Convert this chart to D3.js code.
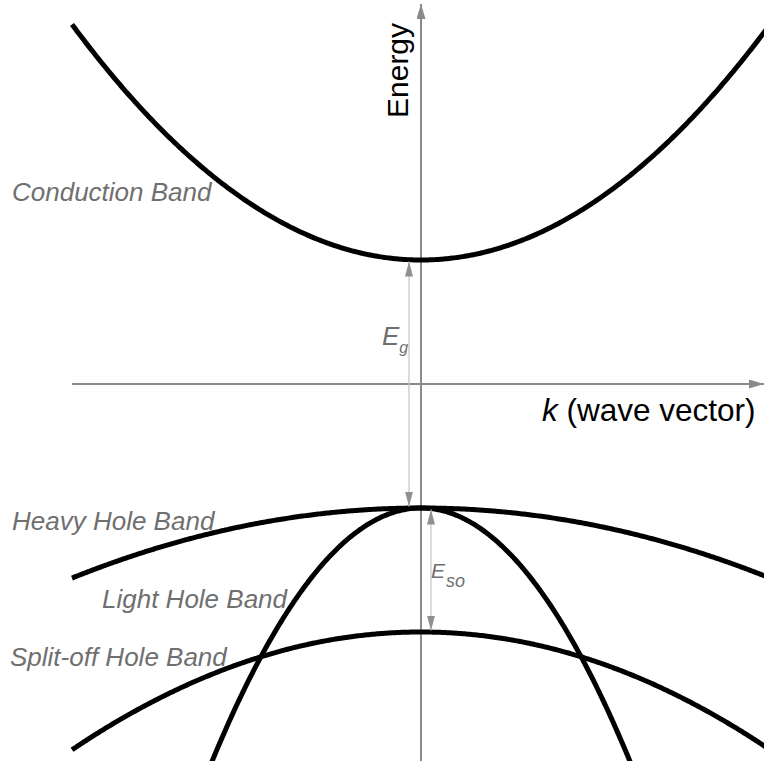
<!DOCTYPE html>
<html>
<head>
<meta charset="utf-8">
<script src="https://cdn.jsdelivr.net/npm/d3@7"></script>
<style>
  html, body { margin: 0; padding: 0; background: #fff; }
  svg { display: block; }
  text { font-family: "Liberation Sans", Arial, sans-serif; }
</style>
</head>
<body>
<svg id="chart" width="764" height="761"></svg>
<script>
// Band parameters: energy at k = 0 and curvature (E = edge + curvature * k^2)
const bandNames = ["Conduction Band", "Heavy Hole Band", "Light Hole Band", "Split-off Hole Band"];
const bandEdges = [1.0, -1.0, -1.0, -2.0];
const bandCurvatures = [1.9, -0.565, -5.7, -0.95];

// Label positions for each band name (pixel anchors)
const bandLabelX = [12, 12, 102, 10];
const bandLabelY = [201, 530, 608, 666];

// Energy gaps marked with double-headed arrows
const gapNames = ["g", "so"];
const gapTop = [1.0, -1.0];
const gapBottom = [-1.0, -2.0];

const W = 764, H = 761;
const svg = d3.select("#chart");

// k axis: k = 0 sits on the vertical axis; energy axis: E = 0 on the horizontal axis
const x = d3.scaleLinear().domain([-1, 1]).range([72, 770]);
const y = d3.scaleLinear().domain([-3, 3]).range([384 + 372, 384 - 372]);

const axisColor = "#8a8a8a";
const labelColor = "#6f6f6f";

const defs = svg.append("defs");
function arrowMarker(id, w, l, color) {
  defs.append("marker")
    .attr("id", id)
    .attr("viewBox", `0 ${-w / 2} ${l} ${w}`)
    .attr("refX", l).attr("refY", 0)
    .attr("markerUnits", "userSpaceOnUse")
    .attr("markerWidth", l).attr("markerHeight", w)
    .attr("orient", "auto")
    .append("path")
    .attr("d", `M0,${-w / 2}L${l},0L0,${w / 2}Z`)
    .attr("fill", color);
}
arrowMarker("axisHead", 9, 15, axisColor);
arrowMarker("gapHead", 8, 15, "#8f8f8f");

// Axes
svg.append("line")
  .attr("x1", x(-1)).attr("y1", y(0))
  .attr("x2", W).attr("y2", y(0))
  .attr("stroke", axisColor).attr("stroke-width", 2)
  .attr("marker-end", "url(#axisHead)");
svg.append("line")
  .attr("x1", x(0)).attr("y1", H)
  .attr("x2", x(0)).attr("y2", 4)
  .attr("stroke", axisColor).attr("stroke-width", 2)
  .attr("marker-end", "url(#axisHead)");

// Bands, drawn from the left end of the k axis past the right edge
const kSamples = d3.range(-1, 1.0501, 0.005);
const line = d3.line().x(d => x(d[0])).y(d => y(d[1])).curve(d3.curveLinear);
const bands = bandNames.map((name, i) => ({
  name,
  pts: kSamples.map(k => [k, bandEdges[i] + bandCurvatures[i] * k * k])
}));
svg.append("g")
  .selectAll("path")
  .data(bands)
  .join("path")
  .attr("d", d => line(d.pts))
  .attr("fill", "none")
  .attr("stroke", "#000")
  .attr("stroke-width", 5);

// Band labels
svg.append("g")
  .selectAll("text")
  .data(bandNames)
  .join("text")
  .attr("x", (d, i) => bandLabelX[i])
  .attr("y", (d, i) => bandLabelY[i])
  .attr("font-size", 26)
  .attr("font-style", "italic")
  .attr("fill", labelColor)
  .text(d => d);

// Gap arrows
const gapX = [409, 431];
gapNames.forEach((g, i) => {
  const yt = y(gapTop[i]) + 1.5, yb = y(gapBottom[i]) - 1.5;
  svg.append("line")
    .attr("x1", gapX[i]).attr("x2", gapX[i])
    .attr("y1", (yt + yb) / 2).attr("y2", yt)
    .attr("stroke", "#c4c4c4").attr("stroke-width", 1.2)
    .attr("marker-end", "url(#gapHead)");
  svg.append("line")
    .attr("x1", gapX[i]).attr("x2", gapX[i])
    .attr("y1", (yt + yb) / 2).attr("y2", yb)
    .attr("stroke", "#c4c4c4").attr("stroke-width", 1.2)
    .attr("marker-end", "url(#gapHead)");
});

// Gap labels
const eg = svg.append("text")
  .attr("x", 382).attr("y", 345)
  .attr("font-style", "italic").attr("fill", labelColor);
eg.append("tspan").attr("font-size", 26).text("E");
eg.append("tspan").attr("font-size", 16).attr("dx", 0).attr("dy", 8).text("g");

const eso = svg.append("text")
  .attr("x", 431).attr("y", 578)
  .attr("font-style", "italic").attr("fill", labelColor);
eso.append("tspan").attr("font-size", 21).text("E");
eso.append("tspan").attr("font-size", 18).attr("dx", 1).attr("dy", 9).text("so");

// Axis titles
svg.append("text")
  .attr("transform", `translate(${x(0) - 13},118) rotate(-90)`)
  .attr("font-size", 30)
  .attr("fill", "#000")
  .text("Energy");

const kt = svg.append("text")
  .attr("x", 542).attr("y", 421)
  .attr("font-size", 31.5)
  .attr("fill", "#000");
kt.append("tspan").attr("font-style", "italic").text("k");
kt.append("tspan").text(" (wave vector)");
</script>
</body>
</html>
